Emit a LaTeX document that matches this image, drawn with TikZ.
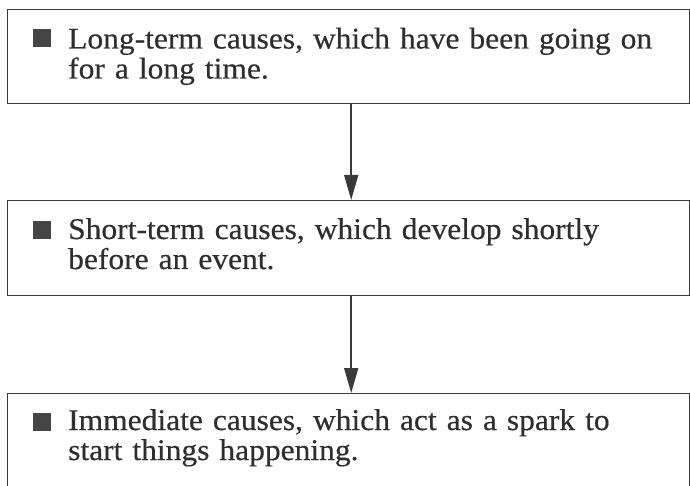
\documentclass[tikz,border=0pt]{standalone}
\usepackage{fontspec}
\setmainfont{Liberation Serif}[FakeStretch=1.05,WordSpace=1.4,FakeBold=0.4]
\usetikzlibrary{arrows.meta}
\definecolor{ink}{HTML}{2E2E2E}
\definecolor{boxline}{HTML}{3A3A3A}
\definecolor{bulletgray}{HTML}{454545}
\begin{document}
\begin{tikzpicture}[x=1bp,y=-1bp,
  causebox/.style={rectangle,draw=boxline,line width=1.4bp,minimum width=682bp,inner sep=0pt,anchor=north west},
  bulletsq/.style={rectangle,fill=bulletgray,minimum size=18bp,inner sep=0pt,anchor=north west},
  causetext/.style={text=ink,font=\fontsize{30bp}{30bp}\selectfont,inner sep=0pt,anchor=base west,text width=640bp,align=left},
  flow/.style={draw=boxline,line width=1.6bp,-{Triangle[length=25bp,width=14bp]}}]
\useasboundingbox (0,0) rectangle (690,486);
\clip (0,0) rectangle (690,486);
\fill[white] (0,0) rectangle (690,486);
\node[causebox,minimum height=94bp] (b1) at (7,9) {};
\node[causebox,minimum height=95bp] (b2) at (7,200) {};
\node[causebox,minimum height=110bp] (b3) at (7,393) {};
\node[bulletsq] (s1) at (33,29) {};
\node[bulletsq] (s2) at (33,221) {};
\node[bulletsq] (s3) at (33,413) {};
\node[causetext] (t1) at (68,48.5) {Long-term causes, which have been going on\\for a long time.};
\node[causetext] (t2) at (68,239) {Short-term causes, which develop shortly\\before an event.};
\node[causetext] (t3) at (68,430) {Immediate causes, which act as a spark to\\start things happening.};
\draw[flow] ([xshift=2.5bp]b1.south) -- ([xshift=2.5bp]b2.north);
\draw[flow] ([xshift=2.5bp]b2.south) -- ([xshift=2.5bp]b3.north);
\end{tikzpicture}
\end{document}
